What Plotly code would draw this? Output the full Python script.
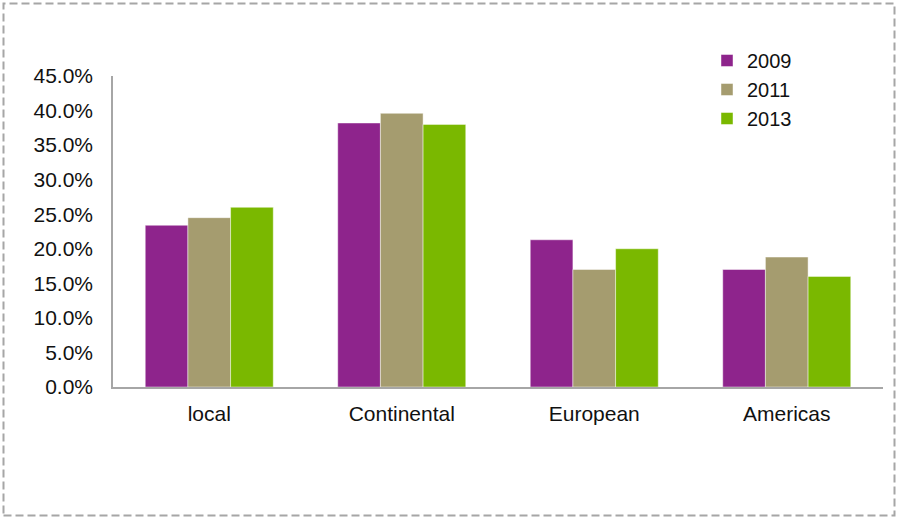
import plotly.graph_objects as go

# Share of respondents by region, per survey year (percent)
categories = ["local", "Continental", "European", "Americas"]
years = ["2009", "2011", "2013"]
values_2009 = [23.4, 38.2, 21.3, 17.0]
values_2011 = [24.5, 39.6, 17.0, 18.8]
values_2013 = [26.0, 38.0, 20.0, 16.0]
y_ticks = [0, 5, 10, 15, 20, 25, 30, 35, 40, 45]

series = [values_2009, values_2011, values_2013]
colors = ["#8E248C", "#A59C6F", "#7AB800"]

fig = go.Figure()
for name, vals, col in zip(years, series, colors):
    fig.add_trace(go.Bar(
        x=categories, y=vals, name=name,
        marker=dict(color=col, line=dict(color="rgba(255,255,255,0.45)", width=1)),
    ))

W, H = 897, 518
L, R, T, B = 113, 14, 76, 131
pw, ph = W - L - R, H - T - B

def px_to_paper_x(px):
    return (px - L) / pw

def px_to_paper_y(py):
    return (H - B - py) / ph

font_family = "Liberation Sans, Arial, sans-serif"

fig.update_layout(
    width=W, height=H,
    margin=dict(l=L, r=R, t=T, b=B),
    paper_bgcolor="white", plot_bgcolor="white",
    barmode="group", bargap=0.335, bargroupgap=0,
    font=dict(family=font_family, size=21, color="#111111"),
    showlegend=True,
    legend=dict(
        x=px_to_paper_x(707), y=px_to_paper_y(41),
        xanchor="left", yanchor="top",
        bgcolor="rgba(0,0,0,0)", font=dict(size=20),
        tracegroupgap=0,
    ),
    xaxis=dict(
        showline=True, linecolor="#A6A6A6", linewidth=1.5,
        showgrid=False, ticks="", ticklabelstandoff=7,
        zeroline=False,
    ),
    yaxis=dict(
        range=[0, 45], tickvals=y_ticks,
        ticktext=[f"{v:.1f}%" for v in y_ticks],
        showline=True, linecolor="#A6A6A6", linewidth=1.5,
        showgrid=False, ticks="", ticklabelstandoff=14,
        zeroline=False,
    ),
    shapes=[dict(
        type="rect", xref="paper", yref="paper",
        x0=px_to_paper_x(3.5), x1=px_to_paper_x(894.5),
        y0=px_to_paper_y(515.5), y1=px_to_paper_y(3.5),
        line=dict(color="#A6A6A6", width=2, dash="8px,4px"),
        fillcolor="rgba(0,0,0,0)", layer="above",
    )],
)

fig.write_html("out.html")
